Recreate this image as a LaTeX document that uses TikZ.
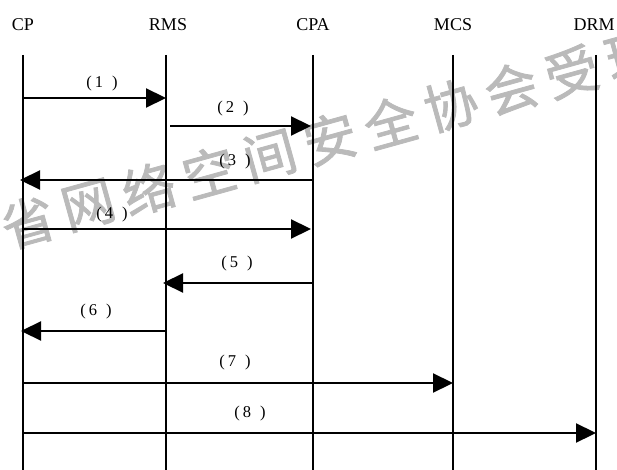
\documentclass[tikz,border=0pt]{standalone}
\usepackage{fontspec}
\setmainfont{Liberation Serif}
\newfontfamily\cjk[FakeBold=1.5]{Noto Sans CJK SC}
\usetikzlibrary{arrows.meta}
\begin{document}
\begin{tikzpicture}[x=1pt,y=-1pt,
  head/.style={font=\fontsize{18}{18}\selectfont, anchor=base, inner sep=0pt},
  life/.style={line width=2.2pt},
  msg/.style={line width=2.2pt, -{Triangle[length=20pt,width=19pt]}},
  lbl/.style={font=\fontsize{16.5}{16.5}\selectfont, inner sep=0pt},
  wm/.style={font=\cjk\fontsize{53}{53}\selectfont, text=black!27, rotate=15.5, inner sep=0pt}]
\useasboundingbox (0,0) rectangle (617,470);
\begin{scope}
\clip (0,0) rectangle (617,470);
\foreach \c [count=\i from -1] in {江,省,网,络,空,间,安,全,协,会,受,理}
  \node[wm] (w\i) at ({28+60.4*\i},{222-16.7*\i}) {\c};
\end{scope}
% heads
\node[head] (CP)  at (23,31)  {CP};
\node[head] (RMS) at (168,31) {RMS};
\node[head] (CPA) at (313,31) {CPA};
\node[head] (MCS) at (453,31) {MCS};
\node[head] (DRM) at (594,31) {DRM};
% lifelines
\coordinate (cpt) at (23,55);   \coordinate (cpb) at (23,470);
\coordinate (rmt) at (166,55);  \coordinate (rmb) at (166,470);
\coordinate (cat) at (313,55);  \coordinate (cab) at (313,470);
\coordinate (mct) at (453,55);  \coordinate (mcb) at (453,470);
\coordinate (drt) at (596,55);  \coordinate (drb) at (596,470);
\draw[life] (cpt) -- (cpb);
\draw[life] (rmt) -- (rmb);
\draw[life] (cat) -- (cab);
\draw[life] (mct) -- (mcb);
\draw[life] (drt) -- (drb);
% messages
\draw[msg] (cpt |- 0,98) -- (rmt |- 0,98);
\draw[msg] ([xshift=4pt]rmt |- 0,126) -- ([xshift=-2pt]cat |- 0,126);
\draw[msg] (cat |- 0,180) -- ([xshift=-3pt]cpt |- 0,180);
\draw[msg] (cpt |- 0,229) -- ([xshift=-2pt]cat |- 0,229);
\draw[msg] (cat |- 0,283) -- ([xshift=-3pt]rmt |- 0,283);
\draw[msg] (rmt |- 0,331) -- ([xshift=-2pt]cpt |- 0,331);
\draw[msg] (cpt |- 0,383) -- (mct |- 0,383);
\draw[msg] (cpt |- 0,433) -- (drt |- 0,433);
% labels
\node[lbl] (l1) at (102,84)  {(\hspace{3pt}1\hspace{9pt})};
\node[lbl] (l2) at (233,109) {(\hspace{3pt}2\hspace{9pt})};
\node[lbl] (l3) at (235,162) {(\hspace{3pt}3\hspace{9pt})};
\node[lbl] (l4) at (112,215) {(\hspace{3pt}4\hspace{9pt})};
\node[lbl] (l5) at (237,264) {(\hspace{3pt}5\hspace{9pt})};
\node[lbl] (l6) at (96,312)  {(\hspace{3pt}6\hspace{9pt})};
\node[lbl] (l7) at (235,363) {(\hspace{3pt}7\hspace{9pt})};
\node[lbl] (l8) at (250,414) {(\hspace{3pt}8\hspace{9pt})};
\end{tikzpicture}
\end{document}
